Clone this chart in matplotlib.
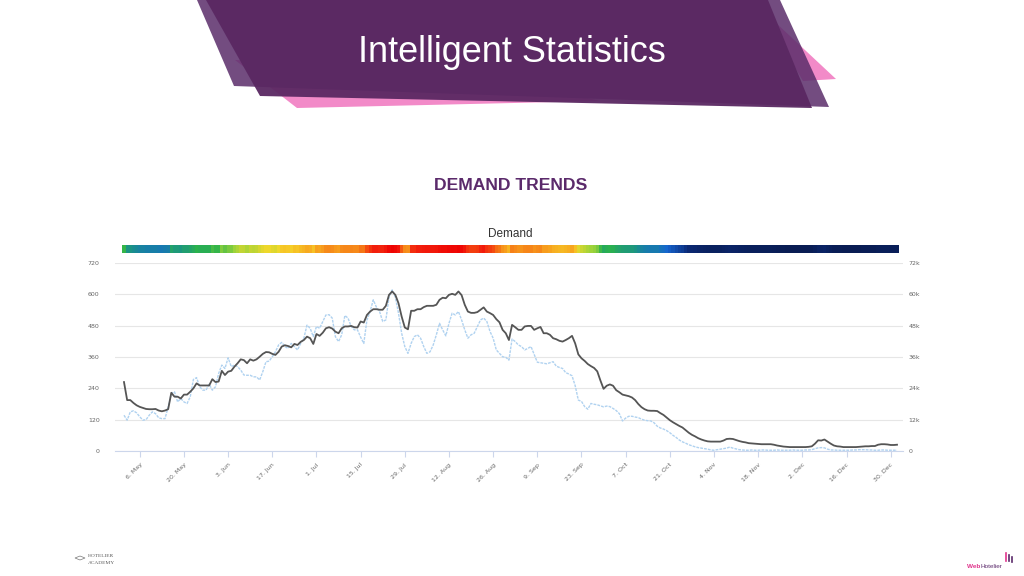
import numpy as np
import pandas as pd
import matplotlib
matplotlib.use('Agg')
import matplotlib.pyplot as plt
import matplotlib.dates as mdates
from matplotlib.colors import LinearSegmentedColormap, Normalize
from matplotlib.patches import Polygon

# ---------------- data ----------------
start_date = '2019-05-01'

demand = [
    264, 195, 195, 184, 175, 169, 165, 161, 160, 160,
    161, 155, 152, 155, 160, 223, 208, 208, 201, 216,
    216, 227, 240, 259, 251, 251, 251, 251, 275, 264,
    266, 307, 291, 304, 307, 323, 336, 351, 348, 336,
    351, 346, 351, 361, 372, 379, 378, 372, 368, 380,
    400, 405, 402, 397, 410, 406, 418, 425, 438, 432,
    410, 448, 441, 453, 470, 474, 469, 457, 451, 470,
    477, 477, 479, 474, 473, 496, 492, 521, 534, 543,
    543, 541, 541, 556, 598, 611, 598, 566, 515, 473,
    466, 537, 537, 543, 543, 551, 556, 556, 556, 560,
    579, 587, 585, 598, 602, 598, 611, 597, 560, 534,
    529, 529, 532, 541, 550, 534, 528, 521, 505, 493,
    464, 451, 425, 483, 474, 464, 464, 477, 479,
    479, 464, 470, 475, 451, 451, 445, 432, 428, 422,
    419, 425, 432, 441, 412, 370, 355, 345, 333, 325,
    318, 305, 270, 238, 250, 255, 250, 233, 225, 216,
    213, 210, 205, 195, 180, 168, 160, 155, 154, 154,
    153, 145, 138, 128, 118, 110, 103, 96, 90, 80,
    70, 62, 56, 49, 44, 40, 37, 36, 36, 36,
    36, 40, 46, 47, 46, 42, 38, 35, 33, 30,
    29, 28, 27, 26, 26, 26, 26, 24, 21, 19,
    17, 16, 15, 15, 15, 15, 15, 15, 16, 18,
    28, 41, 40, 44, 36, 28, 21, 18, 17, 15,
    15, 15, 15, 15, 16, 17, 18, 18, 19, 19,
    24, 26, 26, 25, 23, 23, 24,
]

comparison = [
    137, 118, 150, 154, 146, 131, 118, 120, 137, 150,
    143, 127, 124, 124, 169, 220, 227, 188, 201, 188,
    182, 208, 274, 281, 246, 233, 233, 256, 233, 246,
    297, 329, 316, 357, 323, 329, 323, 310, 291, 290,
    290, 284, 284, 272, 304, 342, 344, 361, 380, 406,
    416, 400, 393, 412, 400, 387, 412, 432, 482, 470,
    438, 477, 470, 496, 521, 522, 509, 438, 419, 445,
    519, 509, 477, 464, 464, 436, 412, 502, 534, 579,
    551, 534, 496, 502, 589, 617, 589, 528, 451, 400,
    374, 412, 438, 445, 432, 400, 374, 380, 406, 445,
    489, 464, 441, 489, 528, 521, 534, 502, 464, 432,
    445, 451, 477, 502, 509, 496, 458, 432, 387, 374,
    361, 359, 348, 429, 419, 406, 400, 387, 393,
    400, 370, 340, 338, 336, 334, 338, 342, 325, 320,
    316, 300, 295, 288, 250, 195, 190, 170, 160, 182,
    179, 177, 173, 169, 172, 170, 163, 155, 143, 115,
    126, 133, 133, 130, 128, 122, 118, 116, 115, 108,
    95, 88, 84, 78, 70, 60, 52, 42, 35, 30,
    24, 20, 16, 13, 11, 9, 7, 4, 3, 5,
    7, 9, 11, 15, 11, 8, 5, 4, 3, 3,
    4, 3, 3, 4, 4, 3, 3, 3, 4, 3,
    3, 3, 3, 4, 3, 3, 3, 4, 4, 5,
    9, 12, 13, 12, 7, 4, 4, 3, 3, 3,
    3, 3, 4, 4, 5, 5, 5, 4, 4, 3,
    3, 4, 4, 3, 3, 3, 3,
]

tick_dates = ['2019-05-06', '2019-05-20', '2019-06-03', '2019-06-17', '2019-07-01',
              '2019-07-15', '2019-07-29', '2019-08-12', '2019-08-26', '2019-09-09',
              '2019-09-23', '2019-10-07', '2019-10-21', '2019-11-04', '2019-11-18',
              '2019-12-02', '2019-12-16', '2019-12-30']
tick_labels = ['6. May', '20. May', '3. Jun', '17. Jun', '1. Jul', '15. Jul', '29. Jul',
               '12. Aug', '26. Aug', '9. Sep', '23. Sep', '7. Oct', '21. Oct', '4. Nov',
               '18. Nov', '2. Dec', '16. Dec', '30. Dec']
left_ticks = [0, 120, 240, 360, 480, 600, 720]
right_ticks = [0, 12000, 24000, 36000, 48000, 60000, 72000]
right_tick_labels = ['0', '12k', '24k', '36k', '48k', '60k', '72k']

assert len(demand) == len(comparison), (len(demand), len(comparison))
dates = pd.date_range(start_date, periods=len(demand), freq='D')
xnum = mdates.date2num(dates)

# ---------------- figure ----------------
W, H = 1024, 576
fig = plt.figure(figsize=(W / 100, H / 100), dpi=100)
fig.patch.set_facecolor('white')


def rect(x0, y0, x1, y1):
    return [x0 / W, 1 - y1 / H, (x1 - x0) / W, (y1 - y0) / H]


bg = fig.add_axes([0, 0, 1, 1])
bg.set_xlim(0, W)
bg.set_ylim(H, 0)
bg.axis('off')

pink = '#f28ac8'
bg.add_patch(Polygon([(235, 60), (297, 108), (600, 101), (470, 70)], closed=True,
                     facecolor=pink, edgecolor='none', zorder=1))
bg.add_patch(Polygon([(760, 8), (836, 79), (803, 81)], closed=True,
                     facecolor=pink, edgecolor='none', zorder=1))
bg.add_patch(Polygon([(197, 0), (780, 0), (829, 107), (234, 86)], closed=True,
                     facecolor='#5a2d6a', alpha=0.85, edgecolor='none', zorder=2))
bg.add_patch(Polygon([(206, 0), (768, 0), (812, 108), (260, 96)], closed=True,
                     facecolor='#5a2862', alpha=0.95, edgecolor='none', zorder=3))
bg.text(512, 52, 'Intelligent Statistics', color='white', fontsize=26,
        family=['Liberation Sans Narrow', 'Liberation Sans', 'DejaVu Sans'],
        ha='center', va='center', zorder=5)

bg.text(511, 185, 'DEMAND TRENDS', color='#5b2a6b', fontsize=12.6, fontweight='bold',
        family=['Liberation Sans', 'DejaVu Sans'], ha='center', va='center')
bg.text(510, 234, 'Demand', color='#333333', fontsize=8.5,
        family=['Liberation Sans', 'DejaVu Sans'], ha='center', va='center')

# logos
bg.text(88, 556, 'HOTELIER', fontsize=3.9, color='#555555', family='Liberation Serif',
        ha='left', va='center')
bg.text(88, 562.5, 'ACADEMY', fontsize=3.9, color='#555555', family='Liberation Serif',
        ha='left', va='center')
bg.add_patch(Polygon([(75, 558), (80, 556), (85, 558), (80, 560)], closed=True,
                     facecolor='none', edgecolor='#777777', linewidth=0.5))
bg.text(980, 566, 'Web', fontsize=4.6, color='#e0348c', fontweight='bold',
        family='Liberation Sans', ha='right', va='center')
bg.text(980.5, 566, 'Hotelier', fontsize=4.6, color='#5b2a6b',
        family='Liberation Sans', ha='left', va='center')
for bx, by0, by1, c in [(1006, 553, 561, '#e0348c'), (1009, 555, 561, '#5b2a6b'),
                        (1012, 557, 562, '#5b2a6b')]:
    bg.plot([bx, bx], [by0, by1], color=c, linewidth=1.2)

# ---------------- main chart ----------------
ax = fig.add_axes(rect(115, 263, 903, 451))
ax.plot(xnum, comparison, color='#b0d2f0', linewidth=1.0, linestyle=(0, (2, 0.8)), zorder=3)
ax.plot(xnum, demand, color='#555555', linewidth=1.3, zorder=4)

ax.set_xlim(xnum[0] - 2.85, xnum[-1] + 1.9)
ax.set_ylim(0, 720)
ax.set_yticks(left_ticks)
ax.set_yticklabels([str(v) for v in left_ticks])
ax.grid(axis='y', color='#e6e6e6', linewidth=0.8)
ax.set_axisbelow(True)
for s in ['top', 'right', 'left']:
    ax.spines[s].set_visible(False)
ax.spines['bottom'].set_color('#ccd6eb')
ax.spines['bottom'].set_linewidth(0.8)
ax.tick_params(axis='y', length=0, pad=11, labelsize=4.5, labelcolor='#666666')
ax.set_xticks(mdates.date2num(pd.to_datetime(tick_dates)))
ax.set_xticklabels(tick_labels, rotation=45, ha='right', rotation_mode='anchor')
ax.tick_params(axis='x', length=4, width=0.8, color='#ccd6eb', pad=4,
               labelsize=4.5, labelcolor='#666666')

sec = ax.secondary_yaxis('right', functions=(lambda v: v * 100, lambda v: v / 100))
sec.set_yticks(right_ticks)
sec.set_yticklabels(right_tick_labels)
sec.tick_params(length=0, pad=4, labelsize=4.5, labelcolor='#666666')
sec.spines['right'].set_visible(False)

# ---------------- colour strip ----------------
cmap = LinearSegmentedColormap.from_list('demand', [
    (0.00, '#08194a'), (0.12, '#0b2a78'), (0.20, '#1565d0'), (0.30, '#19908a'),
    (0.42, '#2cb34a'), (0.52, '#9bd33a'), (0.62, '#f5d82a'), (0.72, '#f7a21e'),
    (0.82, '#f56a14'), (0.88, '#f21c0c'), (1.00, '#ee0000')])
strip = fig.add_axes(rect(115, 245, 903, 253), sharex=ax)
edges = np.concatenate([xnum - 0.5, [xnum[-1] + 0.5]])
strip.pcolormesh(edges, [0, 1], np.array([demand]), cmap=cmap,
                 norm=Normalize(0, 620), shading='flat')
strip.set_ylim(0, 1)
strip.axis('off')

fig.savefig('out.png', dpi=100, facecolor='white')
